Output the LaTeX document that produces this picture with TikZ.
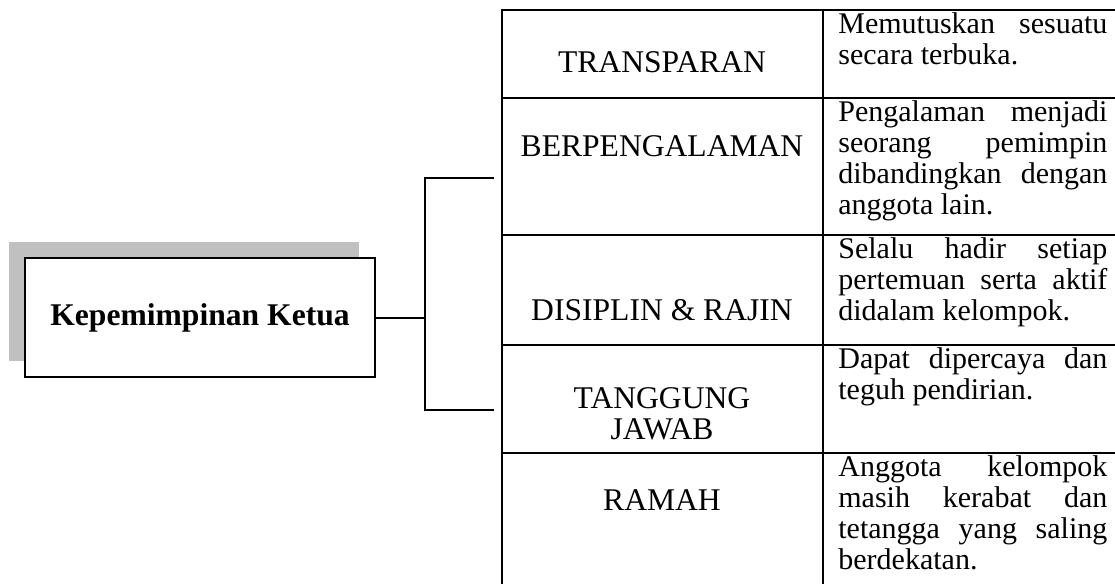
\documentclass[tikz,border=0pt]{standalone}
\usepackage{fontspec}
\setmainfont{Liberation Serif}
\definecolor{shadowgray}{RGB}{192,192,192}
\usetikzlibrary{shadows,calc}
\newcommand{\jline}[1]{\makebox[134.5pt][s]{#1}}

\begin{document}
\begin{tikzpicture}[x=0.5pt, y=-0.5pt,
  lbl/.style={font=\fontsize{15.8}{15.5}\selectfont, align=center, inner sep=0pt},
  desc/.style={font=\fontsize{15}{15.5}\selectfont, align=left, inner sep=0pt, anchor=north west},
  tabline/.style={line width=1pt}]
\useasboundingbox (0,0) rectangle (1115,584);
% kotak utama
\node[draw, line width=1pt, fill=white, minimum width=175pt, minimum height=59.5pt,
      font=\fontsize{15.8}{18}\selectfont\bfseries,
      drop shadow={shadow xshift=-8pt, shadow yshift=8pt, fill=shadowgray, opacity=1}]
  (ketua) at (200,317.5) {Kepemimpinan Ketua};
% garis tabel
\draw[tabline] (1115,10) -- (502,10) -- (502,584);
\draw[tabline] (823,10) -- (823,584);
\foreach \ry in {98,235,345,453}
  \draw[tabline] (502,\ry) -- (1115,\ry);
% kolom kiri
\node[lbl] (transparan) at (662,62) {TRANSPARAN};
\node[lbl] (berpengalaman) at (662,146) {BERPENGALAMAN};
\node[lbl] (disiplin) at (662,310) {DISIPLIN \& RAJIN};
\node[lbl] (tanggung) at (662,414) {TANGGUNG\\JAWAB};
\node[lbl] (ramah) at (662,500) {RAMAH};
% kolom kanan
\node[desc] (dtransparan) at (838,12) {\jline{Memutuskan sesuatu}\\secara terbuka.};
\node[desc] (dberpengalaman) at (838,100) {\jline{Pengalaman menjadi}\\\jline{seorang pemimpin}\\\jline{dibandingkan dengan}\\anggota lain.};
\node[desc] (ddisiplin) at (838,237) {\jline{Selalu hadir setiap}\\\jline{pertemuan serta aktif}\\didalam kelompok.};
\node[desc] (dtanggung) at (838,347) {\jline{Dapat dipercaya dan}\\teguh pendirian.};
\node[desc] (dramah) at (838,455) {\jline{Anggota kelompok}\\\jline{masih kerabat dan}\\\jline{tetangga yang saling}\\berdekatan.};
% penghubung
\coordinate (forktop) at (425,178);
\coordinate (forkbot) at (425,410);
\coordinate (stubtop) at (494,178);
\coordinate (stubbot) at (494,410);
\draw[tabline] (ketua.east) -- (ketua.east -| forktop);
\draw[tabline] (stubtop) -- (forktop) -- (forkbot) -- (stubbot);
\end{tikzpicture}
\end{document}
